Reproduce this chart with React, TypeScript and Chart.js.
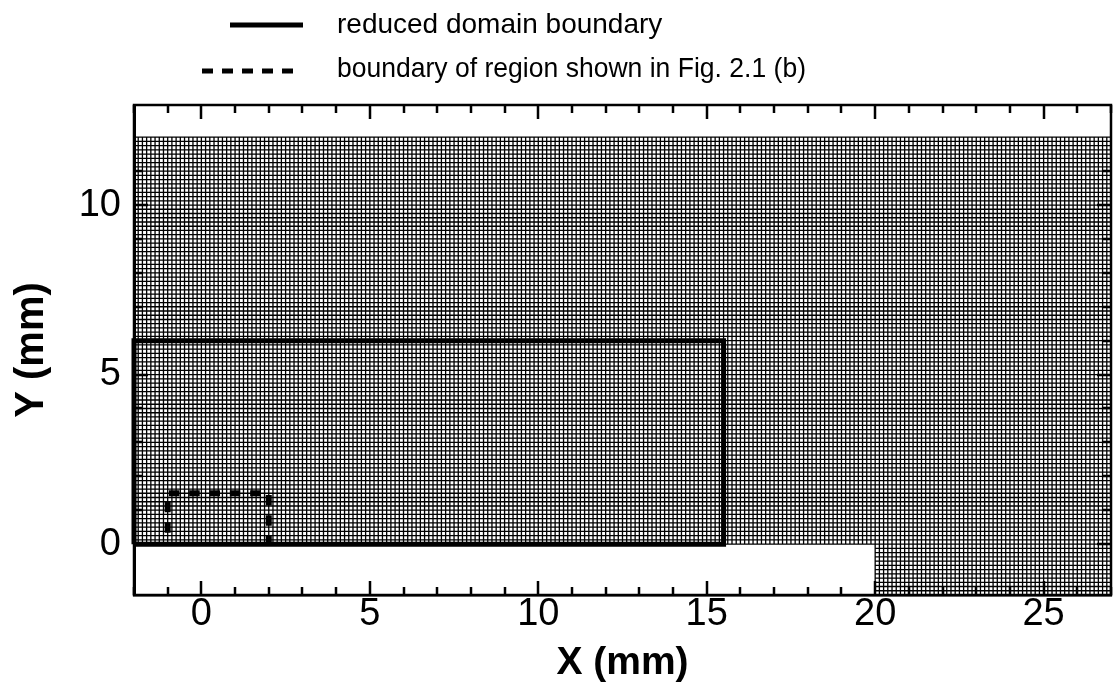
import React, { useEffect, useRef } from "react";
import { Chart, registerables } from "chart.js";

Chart.register(...registerables);

const FONT = "'Liberation Sans', Arial, sans-serif";

const xRange = [-2, 27];
const yRange = [-1.5, 12.95];
const meshStep = 0.125;
const meshTop = 12;
const meshBottom = -1.5;
const meshSlotEndX = 20;
const labelledTicks = [0, 5, 10, 15, 20, 25];
const labelledYTicks = [0, 5, 10];

const reducedDomainX = [-2, 15.5, 15.5, -2, -2];
const reducedDomainY = [0, 0, 6, 6, 0];
const figRegionX = [-1, -1, 2, 2];
const figRegionY = [0, 1.5, 1.5, 0];

const legendEntries = ["reduced domain boundary", "boundary of region shown in Fig. 2.1 (b)"];

type Pt = { x: number; y: number | null };

function buildMesh(): Pt[] {
  const pts: Pt[] = [];
  const nx = Math.round((xRange[1] - xRange[0]) / meshStep);
  for (let i = 0; i <= nx; i++) {
    const x = xRange[0] + i * meshStep;
    const y0 = x >= meshSlotEndX ? meshBottom : 0;
    pts.push({ x, y: y0 }, { x, y: meshTop }, { x, y: null });
  }
  const ny = Math.round((meshTop - meshBottom) / meshStep);
  for (let j = 0; j <= ny; j++) {
    const y = meshBottom + j * meshStep;
    const x0 = y < 0 ? meshSlotEndX : xRange[0];
    pts.push({ x: x0, y }, { x: xRange[1], y }, { x: xRange[1], y: null });
  }
  return pts;
}

const zip = (xs: number[], ys: number[]): Pt[] => xs.map((x, i) => ({ x, y: ys[i] }));

const insideTicks = {
  id: "insideTicks",
  afterDatasetsDraw(chart: any) {
    const { ctx, chartArea: a, scales } = chart;
    ctx.save();
    ctx.strokeStyle = "#000";
    ctx.lineWidth = 2.5;
    ctx.beginPath();
    for (const t of scales.x.ticks) {
      if (!Number.isInteger(t.value)) continue;
      const p = Math.round(scales.x.getPixelForValue(t.value));
      const len = labelledTicks.includes(t.value) ? 14 : 8;
      ctx.moveTo(p, a.top);
      ctx.lineTo(p, a.top + len);
      ctx.moveTo(p, a.bottom);
      ctx.lineTo(p, a.bottom - len);
    }
    for (const t of scales.y.ticks) {
      if (!Number.isInteger(t.value)) continue;
      const p = Math.round(scales.y.getPixelForValue(t.value));
      const len = labelledYTicks.includes(t.value) ? 14 : 8;
      ctx.moveTo(a.left, p);
      ctx.lineTo(a.left + len, p);
      ctx.moveTo(a.right, p);
      ctx.lineTo(a.right - len, p);
    }
    ctx.stroke();
    ctx.strokeRect(a.left, a.top, a.right - a.left, a.bottom - a.top);
    ctx.restore();
  },
};

const topLegend = {
  id: "topLegend",
  afterDraw(chart: any) {
    const { ctx } = chart;
    ctx.save();
    ctx.strokeStyle = "#000";
    ctx.lineWidth = 5;
    ctx.beginPath();
    ctx.moveTo(230, 25);
    ctx.lineTo(303, 25);
    ctx.stroke();
    ctx.setLineDash([11, 9]);
    ctx.beginPath();
    ctx.moveTo(202, 71);
    ctx.lineTo(296, 71);
    ctx.stroke();
    ctx.setLineDash([]);
    ctx.fillStyle = "#000";
    ctx.font = `28px ${FONT}`;
    ctx.textBaseline = "alphabetic";
    ctx.fillText(legendEntries[0], 337, 33);
    ctx.fillText(legendEntries[1], 337, 77, 469);
    ctx.restore();
  },
};

export default function App() {
  const ref = useRef<HTMLCanvasElement>(null);
  useEffect(() => {
    document.body.style.margin = "0";
    const chart = new Chart(ref.current as HTMLCanvasElement, {
      type: "scatter",
      data: {
        datasets: [
          {
            label: "mesh",
            data: buildMesh() as any,
            showLine: true,
            spanGaps: false,
            borderColor: "#000",
            borderWidth: 1.3,
            pointRadius: 0,
          },
          {
            label: legendEntries[0],
            data: zip(reducedDomainX, reducedDomainY) as any,
            showLine: true,
            borderColor: "#000",
            borderWidth: 5,
            pointRadius: 0,
            clip: false as any,
          },
          {
            label: legendEntries[1],
            data: zip(figRegionX, figRegionY) as any,
            showLine: true,
            borderColor: "#000",
            borderWidth: 6,
            borderDash: [10.5, 9.8],
            borderDashOffset: 8.8,
            pointRadius: 0,
          },
        ],
      },
      options: {
        responsive: false,
        animation: false,
        layout: { padding: { top: 105, right: 3, left: 0, bottom: 0 } },
        plugins: { legend: { display: false }, tooltip: { enabled: false } },
        scales: {
          x: {
            type: "linear",
            min: xRange[0],
            max: xRange[1],
            afterFit: (s: any) => { s.height = 95; },
            border: { color: "#000", width: 2.5 },
            grid: { display: false, drawTicks: false },
            ticks: {
              stepSize: 1,
              autoSkip: false,
              maxRotation: 0,
              padding: -3,
              color: "#000",
              font: { family: FONT, size: 38 },
              callback: (v: any) => (labelledTicks.includes(v) ? String(v) : ""),
            },
            title: {
              display: true,
              text: "X (mm)",
              color: "#000",
              padding: { top: 0, bottom: 3 },
              font: { family: FONT, size: 39, weight: "bold" },
            },
          },
          y: {
            type: "linear",
            min: yRange[0],
            max: yRange[1],
            afterFit: (s: any) => { s.width = 134; },
            border: { color: "#000", width: 3 },
            grid: { display: false, drawTicks: false },
            ticks: {
              stepSize: 1,
              autoSkip: false,
              padding: 13,
              color: "#000",
              font: { family: FONT, size: 38 },
              callback: (v: any) => (labelledYTicks.includes(v) ? String(v) : ""),
            },
            title: {
              display: true,
              text: "Y (mm)",
              color: "#000",
              padding: { top: 8, bottom: 0 },
              font: { family: FONT, size: 40, weight: "bold" },
            },
          },
        },
      },
      plugins: [insideTicks, topLegend],
    } as any);
    return () => chart.destroy();
  }, []);
  return (
    <div style={{ position: "absolute", left: 0, top: 0, width: 1114, height: 690, background: "#fff" }}>
      <canvas ref={ref} width={1114} height={690} style={{ display: "block" }} />
    </div>
  );
}
